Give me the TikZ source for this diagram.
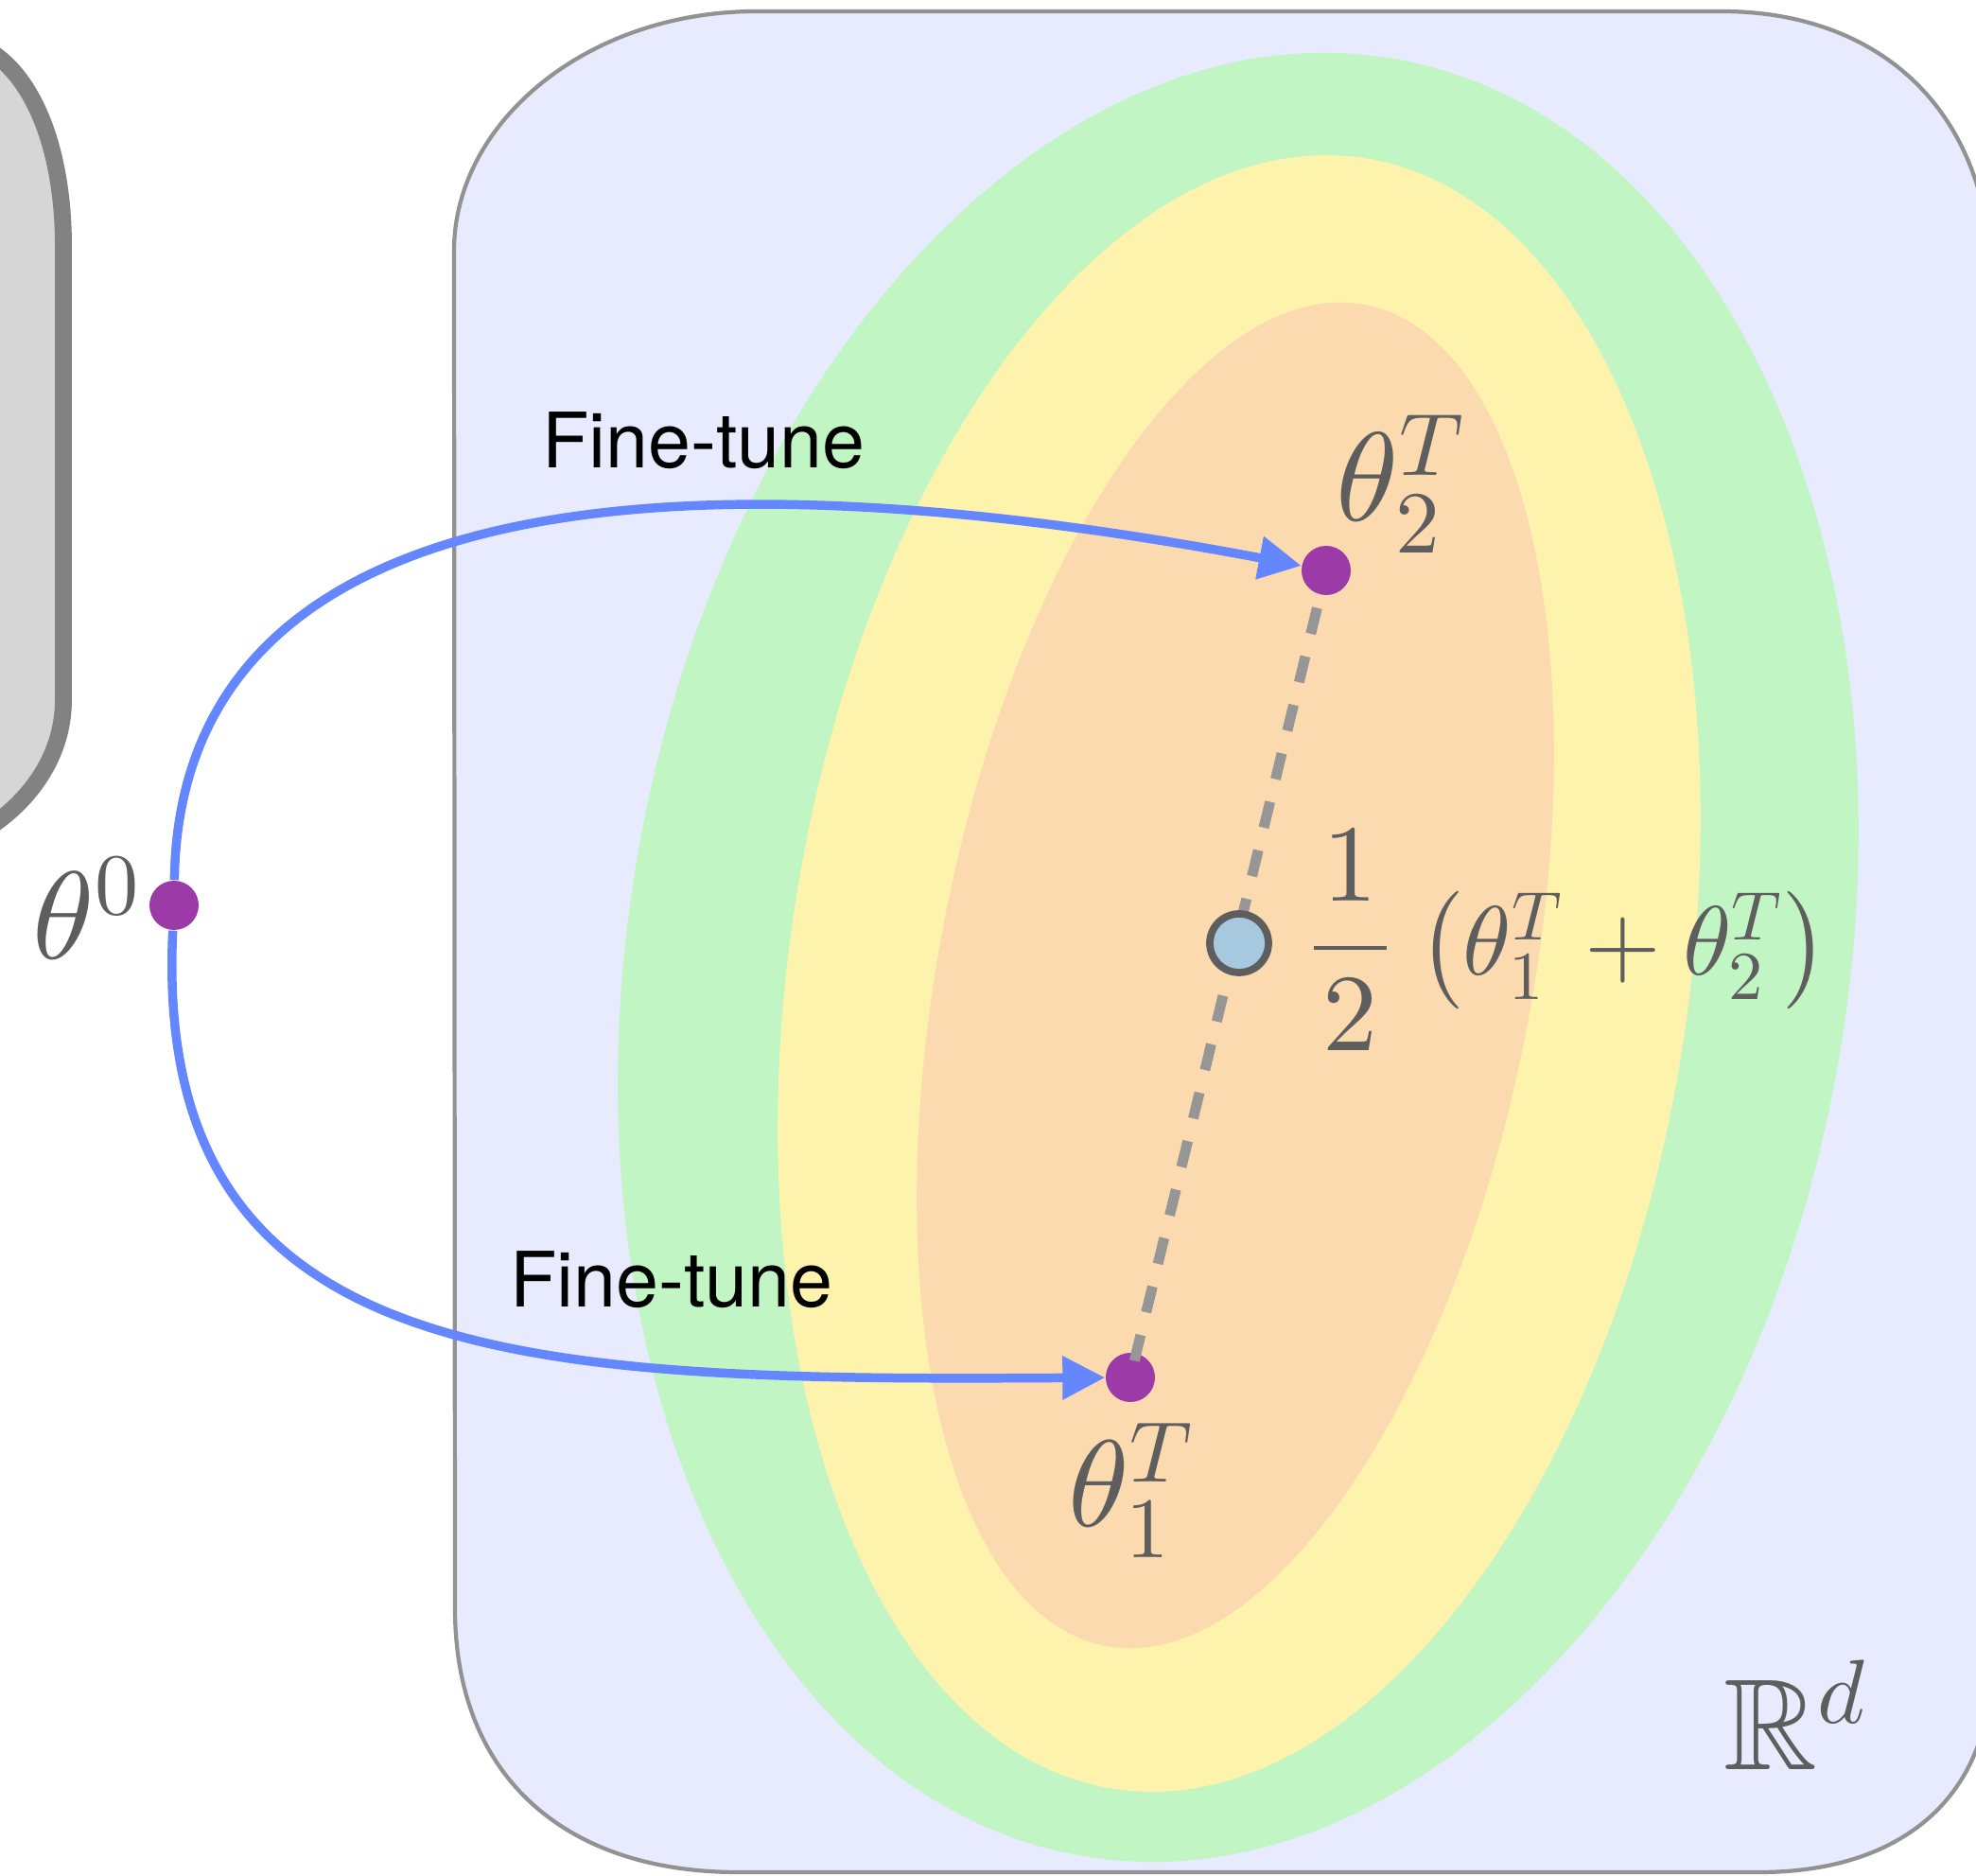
\documentclass[tikz,border=0pt]{standalone}
\usepackage{amsmath, amssymb}
\usepackage[no-math]{fontspec}
\newfontfamily\helv{TeX Gyre Heros}
% Computer Modern at its 10pt design, scaled to any size
\DeclareFontFamily{OML}{cmm}{\skewchar\font127 }
\DeclareFontShape{OML}{cmm}{m}{it}{<->cmmi10}{}
\DeclareFontFamily{OT1}{cmr}{\hyphenchar\font45 }
\DeclareFontShape{OT1}{cmr}{m}{n}{<->cmr10}{}
\DeclareFontFamily{OMS}{cmsy}{\skewchar\font48 }
\DeclareFontShape{OMS}{cmsy}{m}{n}{<->cmsy10}{}
\DeclareFontFamily{OMX}{cmex}{}
\DeclareFontShape{OMX}{cmex}{m}{n}{<->cmex10}{}
\usepackage{tikz}
\usetikzlibrary{
    arrows.meta,
    calc
}
\definecolor{boxblue}{HTML}{E8EBFD}
\definecolor{edgegray}{HTML}{929292}
\definecolor{oldfill}{HTML}{D6D6D6}
\definecolor{oldedge}{HTML}{828282}
\definecolor{ringgreen}{HTML}{C2F5C4}
\definecolor{ringyellow}{HTML}{FDF3AD}
\definecolor{ringorange}{HTML}{FCDAB0}
\definecolor{dotpurple}{HTML}{9C3AA8}
\definecolor{arrowblue}{HTML}{6487FF}
\definecolor{meanblue}{HTML}{A7C9E0}
\definecolor{inkgray}{HTML}{5E5E5E}
\definecolor{dashgray}{HTML}{969696}
\tikzset
{
  weight/.style={circle,fill=dotpurple,inner sep=0pt,minimum size=5.2mm},
  merged/.style={circle,fill=meanblue,draw=inkgray,line width=2.2pt,inner sep=0pt,minimum size=6.2mm},
  finetune/.style={draw=arrowblue,line width=2.7pt,-{Triangle[length=12.8pt,width=12.5pt]}},
  interp/.style={draw=dashgray,line width=3.1pt,dash pattern=on 8pt off 7pt,dash phase=11pt},
  mathlabel/.style={text=inkgray,inner sep=0pt,anchor=base west},
  steplabel/.style={font=\helv\fontsize{23}{27}\selectfont,inner sep=0pt,anchor=base}
}

\begin{document}
\begin{tikzpicture}
        \useasboundingbox (0,0) rectangle (20.89,19.83);

        % Previous space, cut off at the left
        \draw[fill=oldfill,draw=oldedge,line width=5.1pt]
            (-0.30,19.38) .. controls (0.30,19.18) and (0.67,18.33) .. (0.67,17.23)
            -- (0.67,12.43) .. controls (0.67,11.83) and (0.30,11.33) .. (-0.20,11.03)
            -- (-2,11.03) -- (-2,19.38) -- cycle;

        % Parameter space
        \draw[fill=boxblue,draw=edgegray,line width=1.2pt]
            (4.80,17.18) .. controls (4.80,18.53) and (6.20,19.71) .. (8.00,19.71)
            -- (18.20,19.71) .. controls (19.90,19.71) and (21.05,18.63) .. (21.05,16.83)
            -- (21.05,2.23) .. controls (21.05,0.83) and (20.10,0.04) .. (18.60,0.04)
            -- (7.80,0.04) .. controls (6.00,0.04) and (4.81,1.03) .. (4.81,2.83)
            -- cycle;

        % Loss basin
        \fill[ringgreen,rotate around={-9.9:(13.09,9.71)}] (13.09,9.71) ellipse [x radius=6.44, y radius=9.64];
        \fill[ringyellow,rotate around={-8.7:(13.10,9.54)}] (13.10,9.54) ellipse [x radius=4.75, y radius=8.72];
        \fill[ringorange,rotate around={-11:(13.06,9.52)}] (13.06,9.52) ellipse [x radius=3.13, y radius=7.22];

        % Weights
        \node[weight] (t0) at (1.84,10.26) {};
        \node[weight] (t1) at (11.95,5.27) {};
        \node[weight] (t2) at (14.02,13.80) {};

        % Fine-tuning runs
        \draw[finetune] (t0) .. controls (1.90,14.63) and (7.00,15.13) .. (t2);
        \draw[finetune] (t0) .. controls (1.60,5.33) and (5.60,5.23) .. (t1);
        \node[steplabel] (ft2) at (7.44,14.88) {Fine-tune};
        \node[steplabel] (ft1) at (7.10,6.01) {Fine-tune};

        % Averaged weights
        \draw[interp] (t2) -- (t1.center);
        \node[merged] (avg) at (13.10,9.86) {};

        % Labels
        \node[mathlabel,font=\fontsize{37.5}{41}\selectfont] (l0) at (0.34,9.69) {$\theta^0$};
        \node[mathlabel,font=\fontsize{37}{41}\selectfont] (l1) at (11.29,3.69) {$\theta_1^T$};
        \node[mathlabel,font=\fontsize{38}{42}\selectfont] (l2) at (14.12,14.32) {$\theta_2^T$};
        \node[mathlabel,font=\fontsize{29.5}{34}\selectfont] (lavg) at (13.84,9.52)
            {{\fontsize{33}{37}\selectfont$\displaystyle\frac{\mkern1.5mu1\mkern1.5mu}{2}$}$\;\left(\theta_1^T+\theta_2^T\right)$};
        \node[mathlabel,font=\fontsize{39}{43}\selectfont] (space) at (18.22,1.12) {$\mathbb{R}^d$};
    \end{tikzpicture}
\end{document}
